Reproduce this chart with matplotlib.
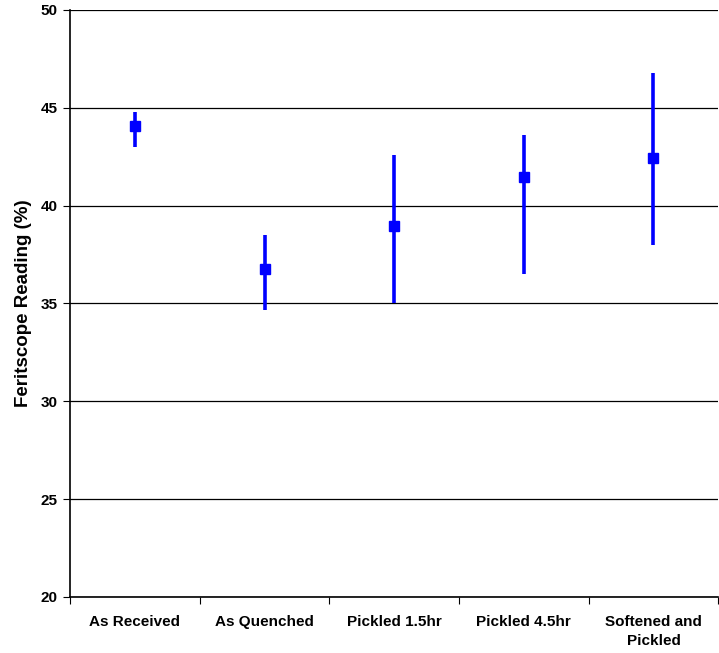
import matplotlib.pyplot as plt
import numpy as np

plt.rcParams['font.family'] = ['Liberation Sans', 'DejaVu Sans']

# === Data ===
categories = ['As Received', 'As Quenched', 'Pickled 1.5hr', 'Pickled 4.5hr', 'Softened and\nPickled']
means = [44.05, 36.75, 38.97, 41.45, 42.45]
upper = [44.8, 38.5, 42.6, 43.6, 46.8]
lower = [43.0, 34.65, 35.0, 36.5, 38.0]

x = np.arange(len(categories))
err = [np.array(means) - np.array(lower), np.array(upper) - np.array(means)]

fig = plt.figure(figsize=(7.19, 6.53), dpi=100)
ax = fig.add_axes([0.0974, 0.0858, 0.9016, 0.899])

ax.errorbar(x, means, yerr=err, fmt='s', color='#0000FF', ecolor='#0000FF',
            markersize=7.5, elinewidth=2.6, capsize=0, zorder=3)

# === Axes ===
ax.set_xlim(-0.5, len(categories) - 0.5)
ax.set_ylim(20, 50)
ax.set_yticks(np.arange(20, 51, 5))
ax.yaxis.grid(True, color='black', linewidth=0.9)
ax.set_axisbelow(True)

ax.set_xticks(x)
ax.set_xticklabels(categories, fontsize=11, fontweight='bold', linespacing=1.45)
ax.set_xticks(np.arange(-0.5, len(categories), 1), minor=True)
ax.tick_params(axis='x', which='major', length=0, pad=13)
ax.tick_params(axis='x', which='minor', length=5, width=0.8, direction='out')
ax.tick_params(axis='y', length=5, width=0.8, labelsize=11, pad=4)
for lab in ax.get_yticklabels():
    lab.set_fontweight('bold')

ax.set_ylabel('Feritscope Reading (%)', fontsize=13.5, fontweight='bold', labelpad=6)

for s in ['top', 'right']:
    ax.spines[s].set_visible(False)
ax.spines['left'].set_linewidth(1.2)
ax.spines['bottom'].set_linewidth(1.2)

plt.savefig('out.png', dpi=100)
